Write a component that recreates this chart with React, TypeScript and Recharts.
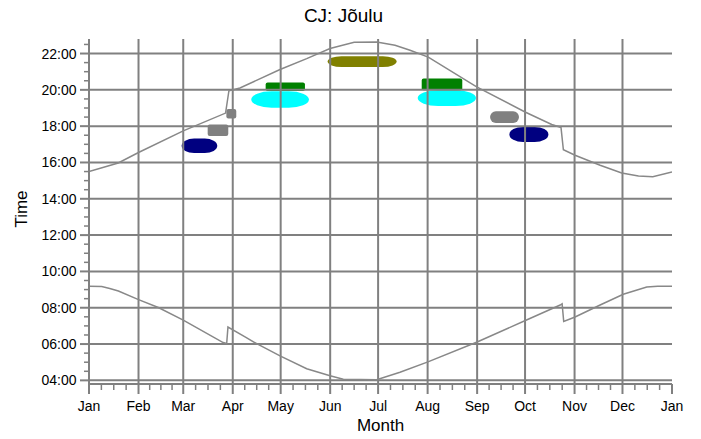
import React from 'react';
import { ComposedChart, Line, XAxis, YAxis, ReferenceLine, ReferenceArea } from 'recharts';

// Month starts (day of year) and labels
const monthStarts = [0, 31, 59, 90, 120, 151, 181, 212, 243, 273, 304, 334, 365];
const monthLabels = ['Jan', 'Feb', 'Mar', 'Apr', 'May', 'Jun', 'Jul', 'Aug', 'Sep', 'Oct', 'Nov', 'Dec', 'Jan'];

// Time axis (hours)
const yMajorTicks = [4, 6, 8, 10, 12, 14, 16, 18, 20, 22];
const yLabels = ['04:00', '06:00', '08:00', '10:00', '12:00', '14:00', '16:00', '18:00', '20:00', '22:00'];
const yMinorTicks = [4.5, 5, 5.5, 6.5, 7, 7.5, 8.5, 9, 9.5, 10.5, 11, 11.5, 12.5, 13, 13.5, 14.5, 15, 15.5, 16.5, 17, 17.5, 18.5, 19, 19.5, 20.5, 21, 21.5, 22.5];

// Sunrise curve (day of year, hour)
const sunriseDays = [0, 8, 13, 18.4, 31, 43.4, 59, 84, 86.2, 87, 97.7, 105, 119.6, 136.3, 150.9, 159.2, 180.1, 194.7, 212.2, 243, 273.2, 295, 296.2, 297.2, 304.3, 320, 334.5, 349.2, 356, 365];
const sunriseTimes = [9.18, 9.17, 9.06, 8.92, 8.45, 8.01, 7.32, 6.08, 6.03, 6.94, 6.39, 6.02, 5.35, 4.64, 4.25, 4.06, 4.04, 4.45, 5.02, 6.11, 7.3, 8.15, 8.22, 7.25, 7.49, 8.15, 8.74, 9.14, 9.18, 9.18];

// Sunset curve (day of year, hour)
const sunsetDays = [0, 18.3, 31, 59, 85.5, 87.6, 94.5, 119.6, 136.3, 150.9, 166, 180.1, 191.6, 201, 212.4, 242.7, 273, 289.7, 295.5, 297, 304.3, 320, 333.5, 344, 353, 365];
const sunsetTimes = [15.5, 15.97, 16.55, 17.74, 18.72, 19.95, 20.1, 21.12, 21.72, 22.28, 22.62, 22.64, 22.46, 22.18, 21.8, 20.16, 18.78, 18.09, 17.93, 16.7, 16.4, 15.85, 15.42, 15.26, 15.22, 15.48];

// Observation blobs
const blobStart = [58.0, 74.3, 86.0, 101.6, 110.6, 149.4, 205.8, 208.3, 251.1, 263.2];
const blobEnd = [80.3, 87.2, 92.2, 137.7, 135.2, 192.6, 242.3, 233.7, 269.2, 287.6];
const blobLow = [16.52, 17.46, 18.42, 19.02, 19.94, 21.26, 19.11, 19.98, 18.18, 17.13];
const blobHigh = [17.32, 18.09, 18.94, 19.92, 20.4, 21.85, 19.98, 20.62, 18.82, 17.96];
const blobColors = ['#000080', '#808080', '#808080', '#00ffff', '#008000', '#808000', '#00ffff', '#008000', '#808080', '#000080'];
const blobKinds = ['e', 'r', 'r', 'e', 'r', 'o', 'e', 'r', 'o', 'e'];

const FONT = 'Liberation Sans, Arial, sans-serif';
const GRID = '#808080';

const sunrise = sunriseDays.map((d, i) => ({ d, h: sunriseTimes[i] }));
const sunset = sunsetDays.map((d, i) => ({ d, h: sunsetTimes[i] }));

const xTicks: number[] = [];
for (let m = 0; m < 12; m++) {
  const a = monthStarts[m];
  const b = monthStarts[m + 1];
  for (let k = 0; k < 4; k++) xTicks.push(a + ((b - a) * k) / 4);
}
xTicks.push(365);

const yTicks = [...yMajorTicks, ...yMinorTicks].sort((a, b) => a - b);

const XTick = (props: any) => {
  const { x, y, payload } = props;
  const idx = monthStarts.indexOf(payload.value);
  const major = idx >= 0;
  return (
    <g>
      <line x1={x} x2={x} y1={y} y2={y + (major ? 10 : 6)} stroke={GRID} strokeWidth={major ? 2 : 1.5} />
      {major && (
        <text x={x} y={y + 27} textAnchor="middle" fontSize={14} fontFamily={FONT} fill="#000">
          {monthLabels[idx]}
        </text>
      )}
    </g>
  );
};

const YTick = (props: any) => {
  const { x, y, payload } = props;
  const idx = yMajorTicks.indexOf(payload.value);
  const major = idx >= 0;
  return (
    <g>
      <line x1={x - (major ? 9 : 5)} x2={x} y1={y} y2={y} stroke={GRID} strokeWidth={major ? 2 : 1.5} />
      {major && (
        <text x={x - 12.5} y={y + 5} textAnchor="end" fontSize={14} fontFamily={FONT} fill="#000">
          {yLabels[idx]}
        </text>
      )}
    </g>
  );
};

const makeShape = (color: string, kind: string) => (p: any) => {
  const { x, y, width, height } = p;
  let rx = 2;
  let ry = 2;
  if (kind === 'e') {
    rx = width * 0.35;
    ry = height / 2;
  } else if (kind === 'o') {
    rx = width * 0.2;
    ry = height / 2;
  }
  return <rect x={x} y={y} width={width} height={height} rx={rx} ry={ry} fill={color} />;
};

export default function App() {
  return (
    <div style={{ position: 'absolute', left: 0, top: 0, width: 701, height: 439, background: '#fff' }}>
      <ComposedChart width={701} height={439} margin={{ top: 39, right: 29, left: 0, bottom: 0 }}>
        <XAxis
          dataKey="d"
          type="number"
          domain={[0, 365]}
          allowDataOverflow
          ticks={xTicks}
          interval={0}
          tickSize={0}
          tickMargin={0}
          tickLine={false}
          tick={<XTick />}
          height={55}
          axisLine={{ stroke: GRID, strokeWidth: 2 }}
        />
        <YAxis
          type="number"
          domain={[3.8, 22.8]}
          allowDataOverflow
          ticks={yTicks}
          interval={0}
          tickSize={0}
          tickMargin={0}
          tickLine={false}
          tick={<YTick />}
          width={89}
          axisLine={{ stroke: GRID, strokeWidth: 2 }}
        />
        {blobStart.map((s, i) => (
          <ReferenceArea
            key={'b' + i}
            x1={s}
            x2={blobEnd[i]}
            y1={blobLow[i]}
            y2={blobHigh[i]}
            fill={blobColors[i]}
            fillOpacity={1}
            stroke="none"
            shape={makeShape(blobColors[i], blobKinds[i])}
          />
        ))}
        {monthStarts.slice(1, 12).map((d) => (
          <ReferenceLine key={'vx' + d} x={d} stroke={GRID} strokeWidth={2} />
        ))}
        {yMajorTicks.map((h) => (
          <ReferenceLine key={'hy' + h} y={h} stroke={GRID} strokeWidth={2} />
        ))}
        <Line data={sunrise} dataKey="h" type="linear" stroke="#888888" strokeWidth={1.5} dot={false} isAnimationActive={false} />
        <Line data={sunset} dataKey="h" type="linear" stroke="#888888" strokeWidth={1.5} dot={false} isAnimationActive={false} />
      </ComposedChart>
      <svg width={701} height={439} style={{ position: 'absolute', left: 0, top: 0, pointerEvents: 'none' }}>
        <text x={343.5} y={22} textAnchor="middle" fontSize={19} fontFamily={FONT} fill="#000">
          CJ: Jõulu
        </text>
        <text x={380.5} y={431} textAnchor="middle" fontSize={17} fontFamily={FONT} fill="#000">
          Month
        </text>
        <text transform="translate(26.5,209) rotate(-90)" textAnchor="middle" fontSize={17} fontFamily={FONT} fill="#000">
          Time
        </text>
      </svg>
    </div>
  );
}
